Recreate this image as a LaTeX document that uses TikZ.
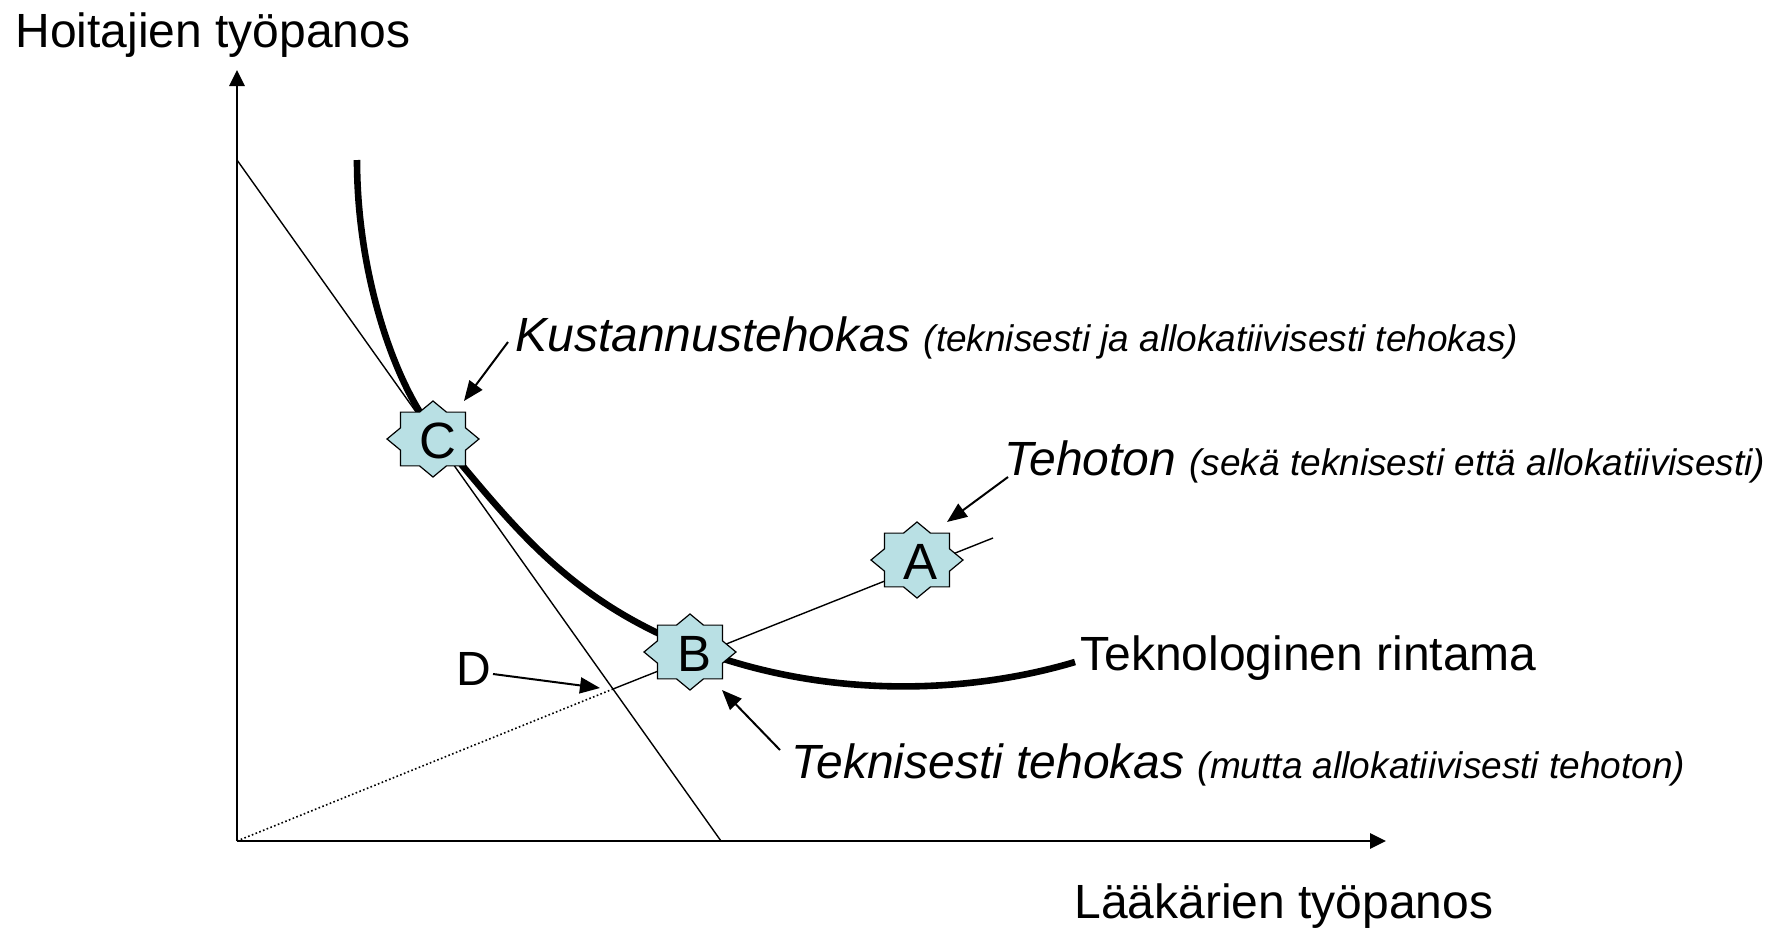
\documentclass[tikz,border=0pt]{standalone}
\usepackage{fontspec}
\setmainfont{Liberation Sans}
\usetikzlibrary{arrows.meta}
\definecolor{starfill}{RGB}{185,224,228}
\newcommand\smallpar{\fontsize{18.5}{22}\selectfont\itshape}
\begin{document}
\begin{tikzpicture}[x=0.5pt,y=-0.5pt,
  txt/.style={font=\fontsize{24}{28}\selectfont, inner sep=0pt, anchor=base west},
  starlbl/.style={font=\fontsize{25.5}{28}\selectfont, inner sep=0pt},
  axis/.style={line width=1.35pt, -{Triangle[length=8pt,width=7.5pt]}},
  thinline/.style={line width=0.7pt},
  dotline/.style={line width=0.8pt, dash pattern=on 0.8pt off 1.2pt},
  frontier/.style={line width=3.3pt},
  pointer/.style={line width=1pt, -{Triangle[length=10pt,width=8pt]}},
  starsty/.style={draw=black, line width=0.6pt, fill=starfill, line join=miter}]
\useasboundingbox (0,0) rectangle (1769,938);

% coordinates
\coordinate (O) at (237,841);
\coordinate (Ytop) at (237,70);
\coordinate (Xend) at (1386,841);
\coordinate (Btop) at (237,160);
\coordinate (Bbot) at (721,841);
\coordinate (Dpt) at (613,689);
\coordinate (Rend) at (993,538);
\coordinate (Cc) at (433,439);
\coordinate (Bc) at (690,652);
\coordinate (Ac) at (917,560);
\coordinate (F0) at (357,160);
\coordinate (F1) at (438,437);
\coordinate (F2) at (690,647);
\coordinate (F3) at (1075,662);

% axes
\draw[axis] (O) -- (Ytop);
\draw[axis] (O) -- (Xend);

% budget (isocost) line
\draw[thinline] (Btop) -- (Bbot);

% ray from origin through B and A
\draw[dotline] (O) -- (Dpt);
\draw[thinline] (Dpt) -- (Rend);

% technological frontier
\draw[frontier] (F0) .. controls (357,280) and (398,392) .. (F1)
  .. controls (505,514) and (560,596) .. (F2)
  .. controls (830,702) and (975,692) .. (F3);

% stars
\foreach \p in {Cc,Bc,Ac}{
  \begin{scope}[shift={(\p)}]
    \draw[starsty] (0:46 and 38)
      \foreach \a in {0,45,...,270}{ -- ({\a+22.5}:35.2 and 29.1) -- ({\a+45}:46 and 38)}
      -- (337.5:35.2 and 29.1) -- cycle;
  \end{scope}
}
\node[starlbl] (C) at (438,441) {C};
\node[starlbl] (B) at (695,654) {B};
\node[starlbl] (A) at (921,562) {A};

% texts
\node[txt] (ylab) at (15,47) {Hoitajien työpanos};
\node[txt] (xlab) at (1074,918) {Lääkärien työpanos};
\node[txt] (kust) at (515,351) {\textit{Kustannustehokas} {\smallpar (teknisesti ja allokatiivisesti tehokas)}};
\node[txt] (teho) at (1004,475) {\textit{Tehoton} {\smallpar (sekä teknisesti että allokatiivisesti)}};
\node[txt] (rint) at (1080,670) {Teknologinen rintama};
\node[txt] (D) at (456,685) {D};
\node[txt] (tekn) at (791,778) {\textit{Teknisesti tehokas} {\smallpar (mutta allokatiivisesti tehoton)}};

% pointer arrows
\coordinate (kustT) at (508,342);
\coordinate (kustH) at (464,401);
\coordinate (tehoT) at (1008,477);
\coordinate (tehoH) at (947,522);
\coordinate (teknT) at (780,750);
\coordinate (teknH) at (722,690);
\coordinate (DT) at (493,674);
\coordinate (DH) at (600,688);
\draw[pointer] (kustT) -- (kustH);
\draw[pointer] (tehoT) -- (tehoH);
\draw[pointer] (teknT) -- (teknH);
\draw[pointer] (DT) -- (DH);
\end{tikzpicture}
\end{document}
